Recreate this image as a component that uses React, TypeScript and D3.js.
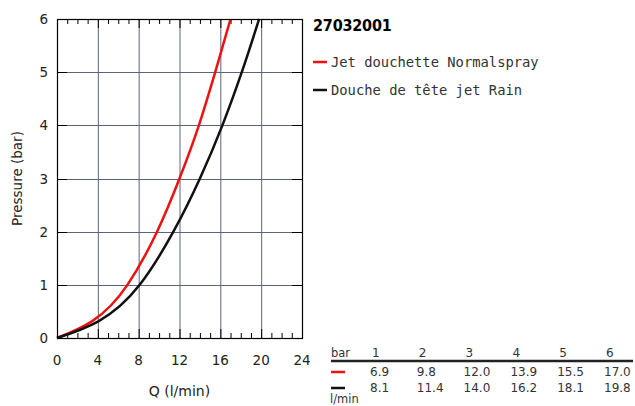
import React, { useEffect, useRef } from 'react';
import * as d3 from 'd3';

// pressure steps (bar) and measured flow (l/min)
const pressures = [1, 2, 3, 4, 5, 6];
const flowNormalspray = [6.9, 9.8, 12.0, 13.9, 15.5, 17.0];
const flowRain = [8.1, 11.4, 14.0, 16.2, 18.1, 19.8];
const seriesNames = ['Jet douchette Normalspray', 'Douche de tête jet Rain'];
const seriesColors = ['#ee1111', '#111111'];
const title = '27032001';
const xTicks = [0, 4, 8, 12, 16, 20, 24];
const yTicks = [0, 1, 2, 3, 4, 5, 6];

export default function App() {
  const ref = useRef<SVGSVGElement>(null);

  useEffect(() => {
    const svg = d3.select(ref.current);
    svg.selectAll('*').remove();

    const left = 57, right = 302, top = 19, bottom = 338;
    const x = d3.scaleLinear().domain([0, 24]).range([left, right]);
    const y = d3.scaleLinear().domain([0, 6]).range([bottom, top]);

    const g = svg.append('g');

    // grid
    g.selectAll('.gx').data(xTicks.slice(1, -1)).join('line')
        .attr('x1', (d) => x(d) + 0.5).attr('x2', (d) => x(d) + 0.5)
        .attr('y1', top).attr('y2', bottom)
        .attr('stroke', '#5b6478').attr('stroke-width', 1);
    g.selectAll('.gy').data(yTicks.slice(1, -1)).join('line')
        .attr('y1', (d) => Math.round(y(d)) + 0.5).attr('y2', (d) => Math.round(y(d)) + 0.5)
        .attr('x1', left).attr('x2', right)
        .attr('stroke', '#5b6478').attr('stroke-width', 1);

    // ticks
    const minor = d3.range(1, 24);
    g.selectAll('.tb').data(minor).join('line')
        .attr('x1', (d) => x(d) + 0.5).attr('x2', (d) => x(d) + 0.5)
        .attr('y1', bottom).attr('y2', (d) => bottom - (d % 4 === 0 ? 9 : 5))
        .attr('stroke', '#000');
    g.selectAll('.tt').data(minor).join('line')
        .attr('x1', (d) => x(d) + 0.5).attr('x2', (d) => x(d) + 0.5)
        .attr('y1', top).attr('y2', (d) => top + (d % 4 === 0 ? 9 : 5))
        .attr('stroke', '#000');
    g.selectAll('.tl').data(yTicks.slice(1, -1)).join('line')
        .attr('y1', (d) => Math.round(y(d)) + 0.5).attr('y2', (d) => Math.round(y(d)) + 0.5)
        .attr('x1', left).attr('x2', left + 10).attr('stroke', '#000');
    g.selectAll('.tr').data(yTicks.slice(1, -1)).join('line')
        .attr('y1', (d) => Math.round(y(d)) + 0.5).attr('y2', (d) => Math.round(y(d)) + 0.5)
        .attr('x1', right - 10).attr('x2', right).attr('stroke', '#000');

    // curves
    const line = d3.line<[number, number]>()
        .x((d) => x(d[0])).y((d) => y(d[1]))
        .curve(d3.curveMonotoneX);
    [flowNormalspray, flowRain].forEach((flows, i) => {
      const pts: [number, number][] = [[0, 0], ...flows.map((q, j) => [q, pressures[j]] as [number, number])];
      g.append('path').attr('d', line(pts))
          .attr('fill', 'none').attr('stroke', seriesColors[i]).attr('stroke-width', 2.5);
    });

    // frame
    g.append('rect').attr('x', left + 0.5).attr('y', top + 0.5)
        .attr('width', right - left).attr('height', bottom - top)
        .attr('fill', 'none').attr('stroke', '#000').attr('stroke-width', 1.2);

    // tick labels
    const font = 'DejaVu Sans, sans-serif';
    g.selectAll('.xl').data(xTicks).join('text')
        .attr('x', (d) => x(d)).attr('y', 365)
        .attr('text-anchor', 'middle').attr('font-family', font).attr('font-size', 13.5)
        .attr('fill', '#222').text((d) => d);
    g.selectAll('.yl').data(yTicks).join('text')
        .attr('x', left - 9).attr('y', (d) => y(d) + 5)
        .attr('text-anchor', 'end').attr('font-family', font).attr('font-size', 13.5)
        .attr('fill', '#222').text((d) => d);

    g.append('text').attr('x', (left + right) / 2).attr('y', 396)
        .attr('text-anchor', 'middle').attr('font-family', font).attr('font-size', 14)
        .attr('fill', '#222').text('Q (l/min)');
    g.append('text').attr('transform', `translate(22,${(top + bottom) / 2}) rotate(-90)`)
        .attr('text-anchor', 'middle').attr('font-family', font).attr('font-size', 13.5)
        .attr('fill', '#222').text('Pressure (bar)');

    // title and legend
    g.append('text').attr('x', 313).attr('y', 31)
        .attr('font-family', 'DejaVu Sans Condensed, DejaVu Sans, sans-serif')
        .attr('font-weight', 'bold').attr('font-size', 16).attr('fill', '#000')
        .attr('letter-spacing', -0.2).text(title);
    seriesNames.forEach((name, i) => {
      const ly = 62 + i * 28;
      g.append('line').attr('x1', 313).attr('x2', 327).attr('y1', ly).attr('y2', ly)
          .attr('stroke', seriesColors[i]).attr('stroke-width', 2.5);
      g.append('text').attr('x', 331).attr('y', ly + 5)
          .attr('font-family', 'DejaVu Sans Mono, monospace').attr('font-size', 13.8)
          .attr('fill', '#333').text(name);
    });

    // table
    const colX = (i: number) => 372 + i * 46.8;
    const tf = 'DejaVu Sans, sans-serif';
    g.append('text').attr('x', 331).attr('y', 357).attr('font-family', tf)
        .attr('font-size', 11.5).attr('fill', '#333').text('bar');
    g.append('line').attr('x1', 331).attr('x2', 633).attr('y1', 361).attr('y2', 361)
        .attr('stroke', '#222').attr('stroke-width', 2.5);
    g.selectAll('.th').data(pressures).join('text')
        .attr('x', (d, i) => colX(i)).attr('y', 357).attr('font-family', tf)
        .attr('font-size', 12).attr('fill', '#333').text((d) => d);
    [flowNormalspray, flowRain].forEach((flows, r) => {
      const ry = 376 + r * 16;
      g.append('line').attr('x1', 331).attr('x2', 345).attr('y1', ry - 4).attr('y2', ry - 4)
          .attr('stroke', seriesColors[r]).attr('stroke-width', 2.5);
      g.selectAll('.r' + r).data(flows).join('text')
          .attr('x', (d, i) => colX(i) - 2).attr('y', ry).attr('font-family', tf)
          .attr('font-size', 12).attr('fill', '#333').text((d) => d.toFixed(1));
    });
    g.append('text').attr('x', 330).attr('y', 403).attr('font-family', tf)
        .attr('font-size', 11.5).attr('fill', '#333').text('l/min');
  }, []);

  return (
    <svg ref={ref} width={635} height={406}
      style={{ position: 'absolute', left: 0, top: 0, background: '#fff' }} />
  );
}
